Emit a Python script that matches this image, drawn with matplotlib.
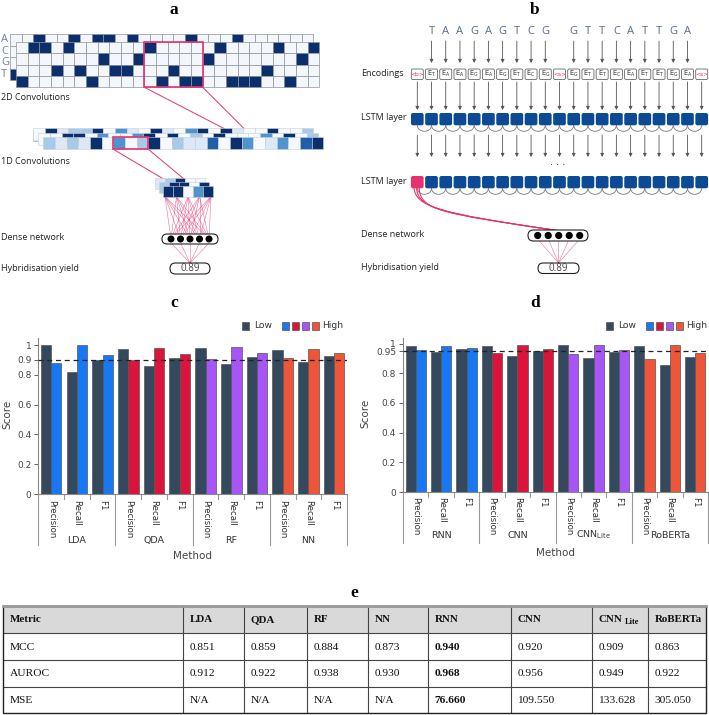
import numpy as np
import matplotlib
matplotlib.use("Agg")
import matplotlib.pyplot as plt
from matplotlib.patches import Rectangle, FancyBboxPatch, Circle, Arc, PathPatch
from matplotlib.path import Path
import matplotlib.transforms as mtransforms

# ---------------- diagram data (panels a, b)
ONEHOT_ROWS = ["A", "C", "G", "T"]
FRONT_SEQ = "TAAGAGTCGGCATGTTCATTTGATCA"
BACK_SEQ = "TCAGTACAAGATCGTACGTACGTCGT"
# shade level per cell (0 = white ... 5 = navy)
CONV1D_TOP = [0, 5, 1, 2, 2, 5, 0, 3, 1, 0, 5, 1, 0, 3, 5, 0, 5, 1, 0, 0, 5, 0, 0, 2]
CONV1D_MID = [0, 0, 5, 5, 0, 3, 0, 0, 3, 5, 0, 5, 0, 2, 0, 5, 0, 0, 0, 3, 0, 5, 0, 2]
CONV1D_FRONT = [2, 1, 2, 1, 5, 0, 3, 0, 2, 5, 0, 2, 1, 1, 4, 0, 5, 3, 0, 1, 3, 0, 4, 5]
POOL_TOP = [1, 2, 5, 0, 0]
POOL_MID = [2, 5, 5, 0, 5]
POOL_FRONT = [5, 5, 0, 3, 5]
B_TOKENS = ["<b>"] + list("TAAGAGTCG") + ["<s>"] + list("GTTCATTGA") + ["<s>"]
YIELD_TEXT = "0.89"

# ---------------- bar data (panels c, d)
METRICS = ["Precision", "Recall", "F1"]
C_METHODS = ["LDA", "QDA", "RF", "NN"]
C_LOW = [1.000, 0.819, 0.900, 0.971, 0.857, 0.911, 0.978, 0.873, 0.920, 0.964, 0.886, 0.924]
C_HIGH = [0.877, 1.000, 0.933, 0.897, 0.978, 0.938, 0.904, 0.984, 0.944, 0.915, 0.973, 0.944]
D_METHODS = ["RNN", "CNN", "CNN$_{\\mathrm{Lite}}$", "RoBERTa"]
D_LOW = [0.982, 0.946, 0.962, 0.987, 0.917, 0.951, 0.989, 0.903, 0.944, 0.982, 0.854, 0.912]
D_HIGH = [0.957, 0.984, 0.971, 0.939, 0.989, 0.962, 0.928, 0.989, 0.957, 0.894, 0.989, 0.939]

# ---------------- table data (panel e)
TABLE_COLS = ["Metric", "LDA", "QDA", "RF", "NN", "RNN", "CNN", "CNN_Lite", "RoBERTa"]
MCC = [0.851, 0.859, 0.884, 0.873, 0.940, 0.920, 0.909, 0.863]
AUROC = [0.912, 0.922, 0.938, 0.930, 0.968, 0.956, 0.949, 0.922]
MSE = [None, None, None, None, 76.660, 109.550, 133.628, 305.050]
BEST_COL = "RNN"

LOW_COLOR = "#34495e"
HIGH_COLORS = ["#1877f2", "#dc143c", "#a855f7", "#ef5538"]
NAVY = "#0b2f6c"
PALE = "#f3f6fb"
PINK = "#e6336f"
BLUES = ["#f5f8fc", "#dce8f5", "#a9c9e8", "#4f93cf", "#1f5fa8", "#0a2f6c"]
LABEL_FONT = "Open Sans"
SERIF = "Liberation Serif"

W, H = 709, 715
fig = plt.figure(figsize=(W / 100, H / 100), dpi=100)
ov = fig.add_axes([0, 0, 1, 1])
ov.set_xlim(0, W)
ov.set_ylim(H, 0)
ov.axis("off")


def cells(x0, y0, w, h, colors, ec, lw=0.5, z=2):
    for i, c in enumerate(colors):
        ov.add_patch(Rectangle((x0 + i * w, y0), w, h, fc=c, ec=ec, lw=lw, zorder=z))


def pill(x, y, w, h, z=5):
    ov.add_patch(FancyBboxPatch((x, y), w, h, boxstyle=f"round,pad=0,rounding_size={h / 2}",
                                fc="white", ec="#222222", lw=0.8, zorder=z))


def arrow(x, y0, y1):
    ov.annotate("", xy=(x, y1), xytext=(x, y0),
                arrowprops=dict(arrowstyle="-|>", color="#555555", lw=0.6,
                                mutation_scale=5, shrinkA=0, shrinkB=0))


def side_label(x, y, s):
    ov.text(x, y, s, fontsize=6.5, family=LABEL_FONT, ha="left", va="center", color="#222222")


# panel letters
for lab, (x, y) in zip("abcde", [(174, 10), (535, 10), (174, 303), (535, 303), (354, 593)]):
    ov.text(x, y, lab, fontsize=12.5, fontweight="bold", family=SERIF, ha="center", va="center")

# ================= panel a
cw, ch = 11.67, 11.4
for r, base in enumerate(ONEHOT_ROWS):
    cells(10, 34.3 + r * ch, cw, ch, [NAVY if s == base else PALE for s in BACK_SEQ], "#8f949b", z=2)
for r, base in enumerate(ONEHOT_ROWS):
    cells(16, 41.7 + r * ch, cw, ch, [NAVY if s == base else PALE for s in FRONT_SEQ], "#8f949b", z=3)
    ov.text(1.0, 40 + r * ch, base, fontsize=8, family=LABEL_FONT, color="#7080a0",
            ha="left", va="center", zorder=4)
ov.add_patch(Rectangle((16 + 11 * cw, 41.7), 5 * cw, 4 * ch, fc="none", ec=PINK, lw=1.2, zorder=6))
ov.plot([16 + 11 * cw, 224], [41.7 + 4 * ch, 128.5], color=PINK, lw=0.7, zorder=1)
ov.plot([16 + 16 * cw, 244], [41.7 + 4 * ch, 128.5], color=PINK, lw=0.7, zorder=1)
side_label(1, 98, "2D Convolutions")

ov.plot([33.3, 33.3, 43.3], [131, 141, 141], color="#b0b8c4", lw=0.6, zorder=1)
cells(33.3, 128.3, cw, 12, [BLUES[v] for v in CONV1D_TOP], "#c8d0da", 0.4, z=2)
cells(38.3, 132.7, cw, 12, [BLUES[v] for v in CONV1D_MID], "#c8d0da", 0.4, z=3)
cells(43.3, 137.3, cw, 12, [BLUES[v] for v in CONV1D_FRONT], "#c8d0da", 0.4, z=4)
ov.add_patch(Rectangle((43.3 + 6 * cw, 137.3), 3 * cw, 12, fc="none", ec=PINK, lw=1.2, zorder=6))
ov.plot([43.3 + 6 * cw, 172], [149.3, 184], color=PINK, lw=0.7, zorder=1)
ov.plot([43.3 + 9 * cw, 190], [149.3, 184], color=PINK, lw=0.7, zorder=1)
side_label(1, 161, "1D Convolutions")

cells(155, 178, 10, 10.5, [BLUES[v] for v in POOL_TOP], "#c8d0da", 0.4, z=2)
cells(159, 182, 10, 10.5, [BLUES[v] for v in POOL_MID], "#c8d0da", 0.4, z=3)
cells(163, 186, 10, 10.5, [BLUES[v] for v in POOL_FRONT], "#c8d0da", 0.4, z=4)

dense_a = np.linspace(171, 209, 5)
for xs in np.linspace(165, 211, 5):
    for xn in dense_a:
        ov.plot([xs, xn], [196.5, 239], color=PINK, lw=0.4, alpha=0.7, zorder=1)
pill(162, 234, 56, 10)
for xn in dense_a:
    ov.add_patch(Circle((xn, 239), 3.5, fc="black", ec="none", zorder=6))
    ov.plot([xn, 190], [243, 263], color=PINK, lw=0.4, alpha=0.7, zorder=1)
pill(170, 263, 40, 11)
ov.text(190, 268.7, YIELD_TEXT, fontsize=7, family=LABEL_FONT, color="#444444",
        ha="center", va="center", zorder=7)
side_label(1, 237, "Dense network")
side_label(1, 268.5, "Hybridisation yield")

# ================= panel b
xk = 417.3 + 14.22 * np.arange(len(B_TOKENS))
for k, tok in enumerate(B_TOKENS):
    x = xk[k]
    if len(tok) == 1:
        ov.text(x, 32, tok, fontsize=8, family=LABEL_FONT, color="#5a6a8a", ha="center", va="center")
        arrow(x, 41, 63)
    ov.add_patch(FancyBboxPatch((x - 6, 69), 12, 10.5, boxstyle="round,pad=0,rounding_size=1.5",
                                fc="white", ec="#666666", lw=0.6, zorder=3))
    if tok.startswith("<"):
        ov.text(x, 74.3, tok, fontsize=4.3, color=PINK, ha="center", va="center", zorder=4)
    else:
        ov.text(x, 74.3, r"$\mathregular{E_{%s}}$" % tok, fontsize=4.8, color="#333333",
                ha="center", va="center", zorder=4)
    arrow(x, 82, 110)
    arrow(x, 135, 157)
    for y0, first_pink in [(113, False), (176, True)]:
        fc = PINK if (first_pink and k == 0) else "#0d4a96"
        ov.add_patch(FancyBboxPatch((x - 6.35, y0), 12.7, 12.3, boxstyle="round,pad=0,rounding_size=2",
                                    fc=fc, ec="none", zorder=3))
    if k < len(B_TOKENS) - 1:
        for yb in (125.3, 188.3):
            ov.add_patch(Arc(((x + xk[k + 1]) / 2, yb), 14.22, 12, theta1=0, theta2=180,
                             color="#777777", lw=0.6, zorder=2))
ov.text(558, 165, "· · ·", fontsize=7, ha="center", va="center", color="#222222")

for dx in (0, 2.5, 5):
    verts = [(414 + dx, 188), (416 + dx, 206 + dx), (436 + dx, 213), (557, 230.5)]
    ov.add_patch(PathPatch(Path(verts, [Path.MOVETO, Path.CURVE4, Path.CURVE4, Path.CURVE4]),
                           fc="none", ec=PINK, lw=0.8, zorder=2))
pill(528, 230, 60, 11)
dense_b = np.linspace(537.7, 579.7, 5)
for xn in dense_b:
    ov.add_patch(Circle((xn, 235.5), 3.6, fc="black", ec="none", zorder=6))
    ov.plot([xn, 558.5], [239, 263], color=PINK, lw=0.4, alpha=0.7, zorder=1)
pill(538, 263, 41, 10.5)
ov.text(558.5, 268.3, YIELD_TEXT, fontsize=7, family=LABEL_FONT, color="#444444",
        ha="center", va="center", zorder=7)
side_label(361, 74, "Encodings")
side_label(361, 118, "LSTM layer")
side_label(361, 182, "LSTM layer")
side_label(361, 234.5, "Dense network")
side_label(361, 267, "Hybridisation yield")


# ================= panels c, d
def bar_panel(l, t, r, b, top, low, high, methods, ticks, ticklabels, thresh,
              sub_y, sep_y, grp_y, meth_y, score_x, legend_x):
    ax = fig.add_axes([l / W, 1 - b / H, (r - l) / W, (b - t) / H])
    n = len(low)
    x = np.arange(n)
    ax.bar(x - 0.2, low, 0.4, color=LOW_COLOR, edgecolor="#555555", lw=0.5, zorder=2)
    ax.bar(x + 0.2, high, 0.4, color=np.repeat(HIGH_COLORS, len(METRICS)),
           edgecolor="#555555", lw=0.5, zorder=2)
    ax.axhline(thresh, color="#222222", lw=0.9, ls=(0, (4, 3)), zorder=3)
    ax.set_xlim(-0.5, n - 0.5)
    ax.set_ylim(0, top)
    ax.set_yticks(ticks)
    ax.set_yticklabels(ticklabels)
    ax.tick_params(axis="y", labelsize=6.5, colors="#444444", length=3, width=0.6, pad=2)
    ax.tick_params(axis="x", bottom=False, labelbottom=False)
    for s in ("top", "right"):
        ax.spines[s].set_visible(False)
    for s in ("left", "bottom"):
        ax.spines[s].set_color("#888888")
        ax.spines[s].set_linewidth(0.8)
    ax.patch.set_alpha(0)

    tr = mtransforms.blended_transform_factory(ax.transData, ax.transAxes)
    fy = lambda ypx: (b - ypx) / (b - t)
    for i in range(n):
        ax.text(i, fy(sub_y), METRICS[i % len(METRICS)], transform=tr, rotation=-90,
                ha="center", va="top", fontsize=6.2, color="#333333")
        edge = i - 0.5
        long_sep = i % len(METRICS) == 0
        ax.plot([edge, edge], [0, fy(sep_y if long_sep else b + 5)], transform=tr,
                color="#999999", lw=0.8, clip_on=False)
    ax.plot([n - 0.5, n - 0.5], [0, fy(sep_y)], transform=tr, color="#999999", lw=0.8, clip_on=False)
    for g, m in enumerate(methods):
        ax.text(g * 3 + 1, fy(grp_y), m, transform=tr, ha="center", va="center",
                fontsize=6.8, color="#333333")
    ov.text((l + r) / 2, meth_y, "Method", ha="center", va="center", fontsize=7.5, color="#444444")
    ov.text(score_x, (t + b) / 2 - 2, "Score", rotation=90, ha="center", va="center",
            fontsize=7.5, color="#444444")

    # legend
    ly = 326
    ov.add_patch(Rectangle((legend_x, ly - 3.7), 7.4, 7.4, fc=LOW_COLOR, ec="#555555", lw=0.5))
    ov.text(legend_x + 12.5, ly, "Low", ha="left", va="center", fontsize=6.6, color="#333333")
    for j, c in enumerate(HIGH_COLORS):
        ov.add_patch(Rectangle((legend_x + 40 + j * 10, ly - 3.7), 7.4, 7.4, fc=c, ec="#555555", lw=0.5))
    ov.text(legend_x + 80.5, ly, "High", ha="left", va="center", fontsize=6.6, color="#333333")
    return ax


bar_panel(38.3, 338, 347, 494, 1.047, C_LOW, C_HIGH, C_METHODS,
          [0, 0.2, 0.4, 0.6, 0.8, 0.9, 1], ["0", "0.2", "0.4", "0.6", "0.8", "0.9", "1"], 0.9,
          500, 545, 540.7, 556, 7, 242)
bar_panel(403, 338, 708, 492, 1.038, D_LOW, D_HIGH, D_METHODS,
          [0, 0.2, 0.4, 0.6, 0.8, 0.95, 1], ["0", "0.2", "0.4", "0.6", "0.8", "0.95", "1"], 0.95,
          497, 543, 535, 553, 365, 605.7)

# ================= panel e (table)
col_x = [3, 183, 244, 307, 368, 428, 511, 592, 648, 706]
row_y = [606, 633, 660, 687, 713]
ov.add_patch(Rectangle((col_x[0], row_y[0]), col_x[-1] - col_x[0], row_y[1] - row_y[0],
                       fc="#d9d9d9", ec="none", zorder=1))
for yy in row_y[1:-1]:
    ov.plot([col_x[0], col_x[-1]], [yy, yy], color="#444444", lw=0.8, zorder=2)
for xx in col_x[1:-1]:
    ov.plot([xx, xx], [row_y[0], row_y[-1]], color="#444444", lw=0.8, zorder=2)
ov.add_patch(Rectangle((col_x[0], row_y[0]), col_x[-1] - col_x[0], row_y[-1] - row_y[0],
                       fc="none", ec="#222222", lw=1.0, zorder=3))
ov.plot([col_x[0], col_x[-1]], [row_y[0], row_y[0]], color="#9a9a9a", lw=2.0, zorder=4)


def cell_text(ci, ri, s, bold=False, size=8.2):
    return ov.text(col_x[ci] + 6.5, (row_y[ri] + row_y[ri + 1]) / 2 + 0.5, s, family=SERIF,
                   fontsize=size, fontweight="bold" if bold else "normal", ha="left", va="center",
                   color="#111111", zorder=5)


for ci, name in enumerate(TABLE_COLS):
    if name == "CNN_Lite":
        cell_text(ci, 0, "CNN", bold=True, size=7.9)
        ov.text(col_x[ci] + 33, (row_y[0] + row_y[1]) / 2 + 3, "Lite", family=SERIF, fontsize=6,
                fontweight="bold", ha="left", va="center", color="#111111", zorder=5)
    else:
        cell_text(ci, 0, name, bold=True, size=7.9)

for ri, (name, vals) in enumerate([("MCC", MCC), ("AUROC", AUROC), ("MSE", MSE)], start=1):
    cell_text(0, ri, name)
    for ci, v in enumerate(vals, start=1):
        s = "N/A" if v is None else f"{v:.3f}"
        cell_text(ci, ri, s, bold=TABLE_COLS[ci] == BEST_COL)

fig.savefig("out.png", dpi=100)
